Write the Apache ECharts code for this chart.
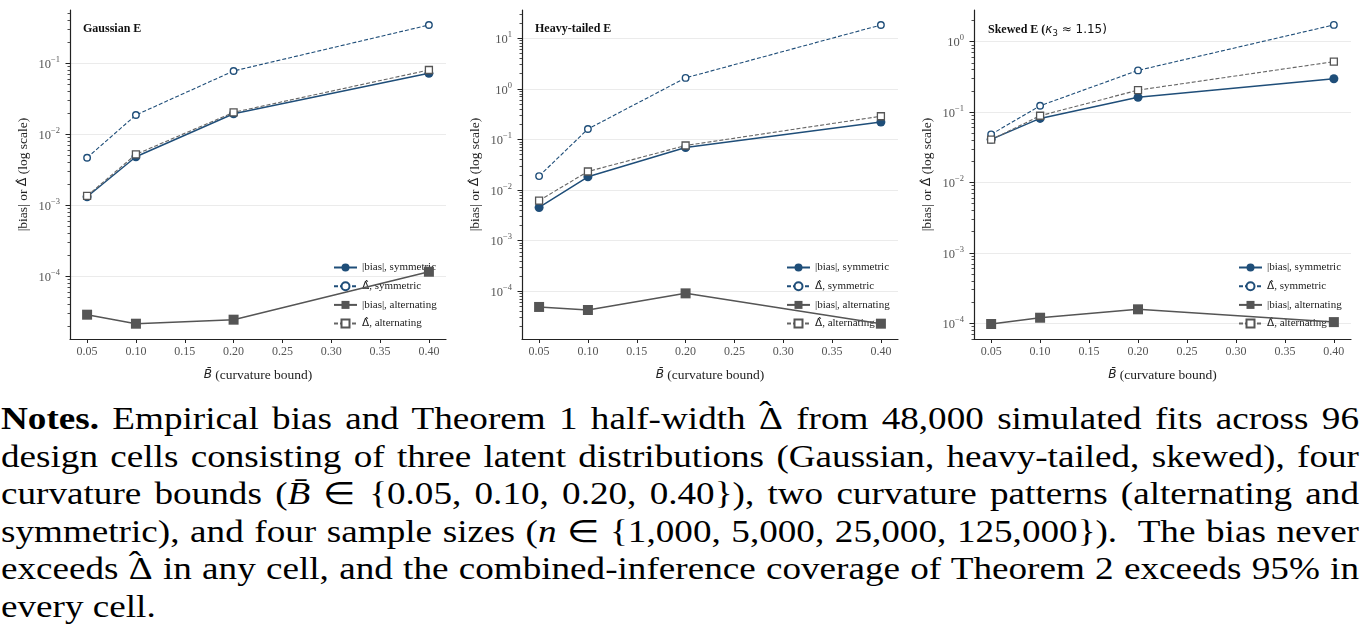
<!DOCTYPE html>
<html><head><meta charset="utf-8">
<script src="https://cdn.jsdelivr.net/npm/echarts@6/dist/echarts.min.js"></script>
<style>
html,body{margin:0;padding:0;background:#fff;width:1361px;height:639px;overflow:hidden}
#chart{position:absolute;left:0;top:0;width:1361px;height:395px}
#notes{position:absolute;left:1px;top:400px;width:1358px;font-family:'Liberation Serif','Times New Roman',serif;font-size:31px;line-height:37.5px;color:#000;transform-origin:left top}
#notes div{text-align:justify;text-align-last:justify;height:37.5px}
#notes div.last{text-align-last:left}
#notes i{font-style:italic}
.acc{position:relative;display:inline-block}
.acc .top{position:absolute;left:0;right:0;top:-3px;text-align:center;line-height:1}
</style></head><body>
<div id="chart"></div>
<div id="notes">
<div><b>Notes.</b> Empirical bias and Theorem 1 half-width <span class="acc"><span class="top">ˆ</span>Δ</span> from 48,000 simulated fits across 96</div>
<div>design cells consisting of three latent distributions (Gaussian, heavy-tailed, skewed), four</div>
<div>curvature bounds (<i>B̄</i> ∈ {0.05, 0.10, 0.20, 0.40}), two curvature patterns (alternating and</div>
<div>symmetric), and four sample sizes (<i>n</i> ∈ {1,000, 5,000, 25,000, 125,000}).&nbsp; The bias never</div>
<div>exceeds <span class="acc"><span class="top">ˆ</span>Δ</span> in any cell, and the combined-inference coverage of Theorem 2 exceeds 95% in</div>
<div class="last">every cell.</div>
</div>
<script>
// ---- data ----
const xVals = [0.05, 0.10, 0.20, 0.40];
const xTickLabels = [0.05, 0.10, 0.15, 0.20, 0.25, 0.30, 0.35, 0.40];
const seriesNames = ['|bias|, symmetric', 'Δ̂, symmetric', '|bias|, alternating', 'Δ̂, alternating'];
const panelTitles = ['Gaussian E', 'Heavy-tailed E', 'Skewed E (', 'κ', '3', ' ≈ 1.15)'];

const gaussBiasSym   = [1.32e-3, 4.83e-3, 0.0195, 0.0723];
const gaussDeltaSym  = [4.68e-3, 0.0187, 0.078, 0.346];
const gaussBiasAlt   = [2.88e-5, 2.15e-5, 2.45e-5, 1.16e-4];
const gaussDeltaAlt  = [1.36e-3, 5.22e-3, 0.0204, 0.0805];

const heavyBiasSym   = [4.53e-3, 0.0183, 0.0695, 0.221];
const heavyDeltaSym  = [0.0189, 0.161, 1.65, 18.3];
const heavyBiasAlt   = [4.9e-5, 4.27e-5, 9.1e-5, 2.29e-5];
const heavyDeltaAlt  = [6.2e-3, 0.0233, 0.076, 0.288];

const skewBiasSym    = [0.041, 0.0813, 0.162, 0.297];
const skewDeltaSym   = [0.0482, 0.123, 0.391, 1.73];
const skewBiasAlt    = [9.77e-5, 1.2e-4, 1.58e-4, 1.04e-4];
const skewDeltaAlt   = [0.0405, 0.0887, 0.205, 0.52];

const gaussMajorExp = [-4, -3, -2, -1];
const heavyMajorExp = [-4, -3, -2, -1, 0, 1];
const skewMajorExp  = [-4, -3, -2, -1, 0];

// ---- layout / style ----
const SERIF = "'Liberation Serif','Times New Roman',serif";
const SANS = "'DejaVu Sans'";
const BLUE = '#1f4e79';
const GRAY = '#555555';
const AXIS = '#222222';
const panels = [
  {left: 70,  width: 376, yMin: -4.883, yMax: -0.249, majors: gaussMajorExp,
   data: [gaussBiasSym, gaussDeltaSym, gaussBiasAlt, gaussDeltaAlt], legendLeft: 333},
  {left: 522, width: 376, yMin: -4.943, yMax: 1.559, majors: heavyMajorExp,
   data: [heavyBiasSym, heavyDeltaSym, heavyBiasAlt, heavyDeltaAlt], legendLeft: 786},
  {left: 974, width: 377, yMin: -4.223, yMax: 0.45, majors: skewMajorExp,
   data: [skewBiasSym, skewDeltaSym, skewBiasAlt, skewDeltaAlt], legendLeft: 1238}
];
const GTOP = 10, GH = 329;

function minorTicks(lo, hi) {
  const out = [];
  for (let e = Math.floor(lo) - 1; e <= Math.ceil(hi); e++) {
    for (let k = 2; k <= 9; k++) {
      const v = e + Math.log10(k);
      if (v >= lo && v <= hi) out.push(v);
    }
  }
  return out;
}
function expStr(v) {
  const e = Math.round(v);
  return e < 0 ? '−' + (-e) : String(e);
}

const styles = [
  {lineStyle: {color: BLUE, width: 1.5, type: 'solid'}, symbol: 'circle', symbolSize: 9,
   itemStyle: {color: BLUE, borderColor: BLUE, borderWidth: 0}},
  {lineStyle: {color: BLUE, width: 1.1, type: [4, 2]}, symbol: 'circle', symbolSize: 6.5,
   itemStyle: {color: '#ffffff', borderColor: BLUE, borderWidth: 1.4}},
  {lineStyle: {color: GRAY, width: 1.5, type: 'solid'}, symbol: 'rect', symbolSize: 10,
   itemStyle: {color: GRAY, borderColor: GRAY, borderWidth: 0}},
  {lineStyle: {color: '#666666', width: 1.1, type: [4, 2]}, symbol: 'rect', symbolSize: 7,
   itemStyle: {color: '#ffffff', borderColor: GRAY, borderWidth: 1.3}}
];

function legendLabel(name) {
  if (name.indexOf('Δ̂') === 0) return '{m|Δ̂}{t|' + name.slice(2) + '}';
  return '{t|' + name + '}';
}

const grid = [], xAxis = [], yAxis = [], series = [], legend = [], title = [];
panels.forEach((p, i) => {
  grid.push({left: p.left, top: GTOP, width: p.width, height: GH});
  xAxis.push({
    type: 'value', gridIndex: i, min: 0.0325, max: 0.4175,
    axisLine: {show: true, onZero: false, lineStyle: {color: AXIS, width: 1.2}},
    axisTick: {show: true, customValues: xTickLabels, length: 4, lineStyle: {color: AXIS, width: 1}},
    axisLabel: {customValues: xTickLabels, formatter: v => v.toFixed(2), margin: 7,
      fontFamily: SERIF, fontSize: 12, color: '#555'},
    splitLine: {show: false},
    name: '{i|B̄}{n| (curvature bound)}', nameLocation: 'middle', nameGap: 29,
    nameTextStyle: {rich: {
      i: {fontFamily: SANS, fontStyle: 'italic', fontSize: 12, color: '#222'},
      n: {fontFamily: SERIF, fontSize: 13.5, color: '#222'}
    }}
  });
  yAxis.push({
    type: 'value', gridIndex: i, min: p.yMin, max: p.yMax, position: 'left',
    axisLine: {show: true, onZero: false, lineStyle: {color: AXIS, width: 1.2}},
    axisTick: {show: true, customValues: p.majors, length: 4.5, lineStyle: {color: AXIS, width: 1}},
    axisLabel: {customValues: p.majors, margin: 10,
      formatter: v => '{b|10}{s|' + expStr(v) + '}',
      rich: {
        b: {fontFamily: SERIF, fontSize: 12.5, color: '#555', lineHeight: 16, verticalAlign: 'bottom'},
        s: {fontFamily: SERIF, fontSize: 8.5, color: '#555', lineHeight: 6, verticalAlign: 'top'}
      }},
    splitLine: {show: true, lineStyle: {color: '#ebebeb', width: 1}},
    name: '{t||bias| or }{m|Δ̂}{t| (log scale)}', nameLocation: 'middle', nameGap: 40, nameRotate: 90,
    nameTextStyle: {rich: {
      t: {fontFamily: SERIF, fontSize: 13.5, color: '#222'},
      m: {fontFamily: SANS, fontSize: 12.5, color: '#222'}
    }}
  });
  yAxis.push({
    type: 'value', gridIndex: i, min: p.yMin, max: p.yMax, position: 'left',
    axisLine: {show: false, onZero: false},
    axisTick: {show: true, customValues: minorTicks(p.yMin, p.yMax), length: 2.5, lineStyle: {color: AXIS, width: 0.8}},
    axisLabel: {show: false},
    splitLine: {show: false}
  });
  p.data.forEach((vals, k) => {
    const s = styles[k];
    series.push({
      type: 'line', name: seriesNames[k], xAxisIndex: i, yAxisIndex: 2 * i,
      data: xVals.map((x, j) => [x, Math.log10(vals[j])]),
      symbol: s.symbol, symbolSize: s.symbolSize, showSymbol: true,
      lineStyle: s.lineStyle, itemStyle: s.itemStyle, color: s.lineStyle.color,
      emphasis: {disabled: true}, silent: true, z: 2 + k, animation: false
    });
  });
  legend.push({
    data: seriesNames, orient: 'vertical', left: p.legendLeft, top: 261.5, padding: 0,
    itemWidth: 23, itemHeight: 10, itemGap: 6.7, selectedMode: false,
    formatter: legendLabel,
    textStyle: {fontFamily: SERIF, fontSize: 11, color: '#222', lineHeight: 12,
      rich: {
        t: {fontFamily: SERIF, fontSize: 11, color: '#222', lineHeight: 12},
        m: {fontFamily: SANS, fontSize: 10.5, color: '#222', lineHeight: 12}
      }}
  });
});

const titleStyle = {fontFamily: SERIF, fontWeight: 'bold', fontSize: 12, color: '#111'};
title.push({text: panelTitles[0], left: 78, top: 18, textStyle: titleStyle});
title.push({text: panelTitles[1], left: 530, top: 18, textStyle: titleStyle});
title.push({text: '{b|' + panelTitles[2] + '}{k|' + panelTitles[3] + '}{s|' + panelTitles[4] + '}{m|' + panelTitles[5] + '}',
  left: 983, top: 17,
  textStyle: {fontWeight: 'normal', rich: {
    b: {fontFamily: SERIF, fontWeight: 'bold', fontSize: 12, color: '#111', lineHeight: 16},
    k: {fontFamily: SANS, fontWeight: 'normal', fontStyle: 'italic', fontSize: 12, color: '#111', lineHeight: 16},
    s: {fontFamily: SANS, fontWeight: 'normal', fontSize: 8.5, color: '#111', lineHeight: 8, verticalAlign: 'bottom'},
    m: {fontFamily: SANS, fontWeight: 'normal', fontSize: 12, color: '#111', lineHeight: 16}
  }}});

const chart = echarts.init(document.getElementById('chart'), null, {renderer: 'canvas'});
chart.setOption({
  animation: false, backgroundColor: '#fff',
  grid, xAxis, yAxis, series, legend, title, tooltip: {show: false}
});

// ---- notes: widen glyphs uniformly (Computer-Modern-like width), then justify ----
(function () {
  const notes = document.getElementById('notes');
  const lines = Array.from(notes.children);
  let maxW = 0;
  lines.forEach(d => {
    const sp = document.createElement('span');
    sp.style.whiteSpace = 'nowrap';
    while (d.firstChild) sp.appendChild(d.firstChild);
    d.appendChild(sp);
    d.style.textAlign = 'left';
    d.style.textAlignLast = 'left';
    maxW = Math.max(maxW, sp.getBoundingClientRect().width);
  });
  lines.forEach(d => {
    d.firstChild.style.whiteSpace = 'normal';
    d.style.textAlign = '';
    d.style.textAlignLast = '';
  });
  const target = 1358;
  const s = Math.min(1.25, target * 0.99 / maxW);
  notes.style.width = (target / s) + 'px';
  notes.style.transform = 'scaleX(' + s + ')';
})();
</script>
</body></html>
